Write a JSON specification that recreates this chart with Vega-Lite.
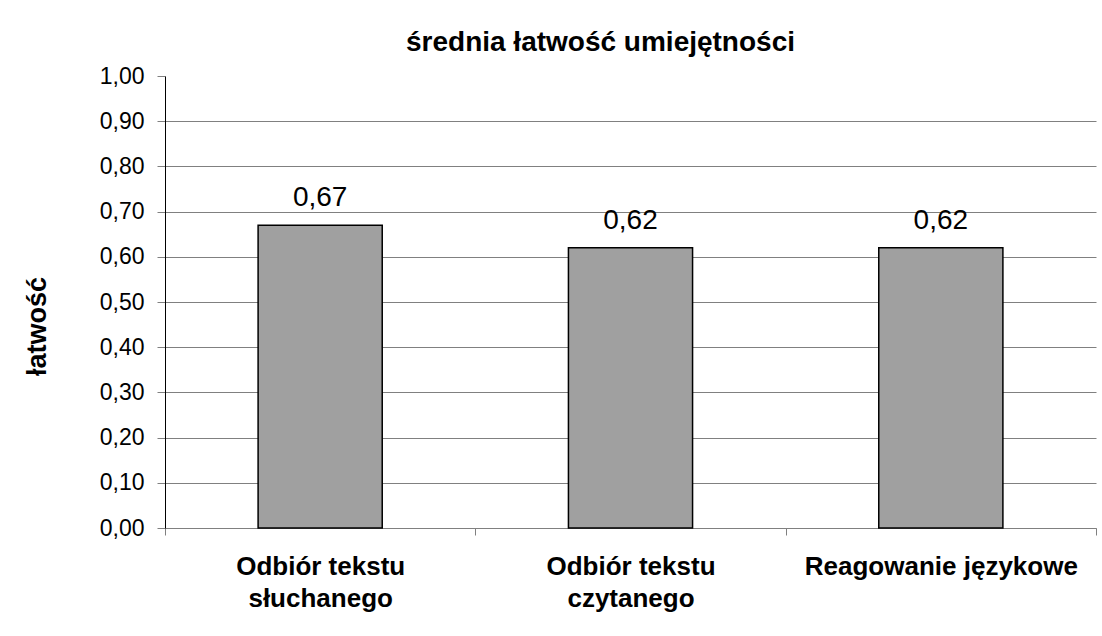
{
  "$schema": "https://vega.github.io/schema/vega-lite/v6.json",
  "width": 931,
  "height": 452,
  "autosize": {"type": "none"},
  "padding": {"left": 165, "top": 76, "right": 6, "bottom": 108},
  "background": "white",
  "title": {
    "text": "średnia łatwość umiejętności",
    "fontSize": 28,
    "fontWeight": "bold",
    "font": "Liberation Sans",
    "color": "black",
    "anchor": "middle",
    "dx": -30,
    "offset": -14,
    "baseline": "alphabetic"
  },
  "data": {
    "values": [
      {"umiejetnosc": "Odbiór tekstu słuchanego", "latwosc": 0.67},
      {"umiejetnosc": "Odbiór tekstu czytanego", "latwosc": 0.62},
      {"umiejetnosc": "Reagowanie językowe", "latwosc": 0.62}
    ]
  },
  "encoding": {
    "x": {
      "field": "umiejetnosc",
      "type": "nominal",
      "sort": null,
      "scale": {"paddingInner": 0, "paddingOuter": 0},
      "axis": {
        "title": null,
        "labelExpr": "datum.value == 'Odbiór tekstu słuchanego' ? ['Odbiór tekstu', 'słuchanego'] : datum.value == 'Odbiór tekstu czytanego' ? ['Odbiór tekstu', 'czytanego'] : datum.value",
        "tickBand": "extent",
        "domainColor": "#808080",
        "tickColor": "#808080",
        "tickSize": 7,
        "labelPadding": 18,
        "labelAngle": 0,
        "labelFont": "Liberation Sans",
        "labelFontSize": 26,
        "labelFontWeight": "bold",
        "labelLineHeight": 32,
        "labelColor": "black",
        "labelBaseline": "top",
        "labelLimit": 0,
        "labelOverlap": false,
        "grid": false
      }
    },
    "y": {
      "field": "latwosc",
      "type": "quantitative",
      "scale": {"domain": [0, 1], "nice": false},
      "axis": {
        "title": "łatwość",
        "values": [0, 0.1, 0.2, 0.3, 0.4, 0.5, 0.6, 0.7, 0.8, 0.9, 1],
        "format": ".2f",
        "grid": true,
        "gridColor": {"condition": {"test": "datum.value >= 0.999", "value": "transparent"}, "value": "#808080"},
        "gridWidth": 1,
        "domainColor": "black",
        "tickColor": "#808080",
        "tickSize": 8,
        "labelPadding": 13,
        "labelFont": "Liberation Sans",
        "labelFontSize": 23,
        "labelColor": "black",
        "titleFont": "Liberation Sans",
        "titleFontSize": 27,
        "titleFontWeight": "bold",
        "titleColor": "black",
        "titlePadding": 48,
        "titleY": 250
      }
    }
  },
  "layer": [
    {
      "mark": {"type": "bar", "width": {"band": 0.4}, "fill": "#a0a0a0", "stroke": "black", "strokeWidth": 1.5}
    },
    {
      "mark": {"type": "text", "dy": -19, "baseline": "alphabetic", "fontSize": 28, "font": "Liberation Sans", "color": "black"},
      "encoding": {"text": {"field": "latwosc", "type": "quantitative", "format": ".2f"}}
    }
  ],
  "config": {
    "view": {"stroke": null},
    "locale": {"number": {"decimal": ",", "thousands": " ", "grouping": [3], "currency": ["", " zł"]}}
  }
}
